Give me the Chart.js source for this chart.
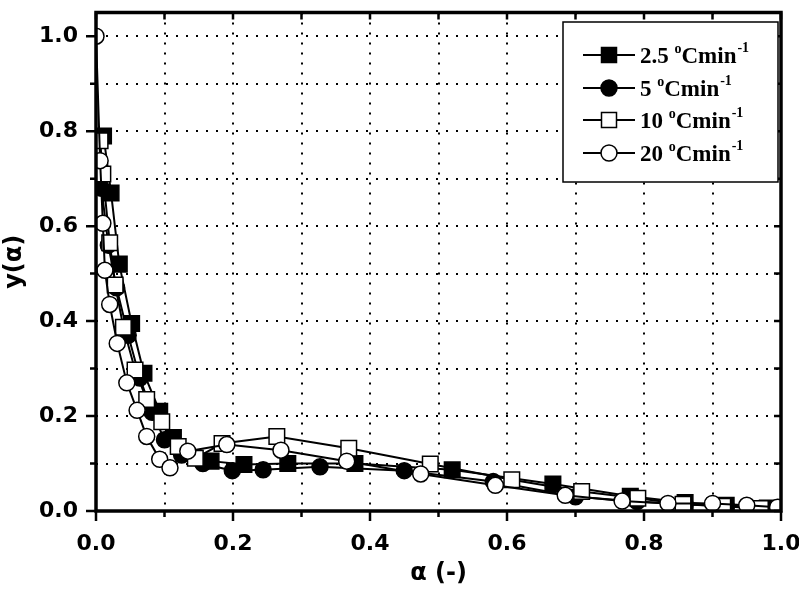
<!DOCTYPE html>
<html lang="en">
<head>
  <meta charset="UTF-8">
  <title>y(alpha) master plot</title>
  <script src="https://cdn.jsdelivr.net/npm/chart.js"></script>
  <style>
    html, body {
      margin: 0;
      padding: 0;
      background: #ffffff;
    }
    #wrap {
      width: 799px;
      height: 590px;
    }
  </style>
</head>
<body>
  <div id="wrap"><canvas id="plot" width="799" height="590"></canvas></div>

  <script>
    // values
    const xTicks = [0, 0.1, 0.2, 0.3, 0.4, 0.5, 0.6, 0.7, 0.8, 0.9, 1.0];
    const yTicks = [0, 0.1, 0.2, 0.3, 0.4, 0.5, 0.6, 0.7, 0.8, 0.9, 1.0];

    const rate25X = [0.011, 0.022, 0.034, 0.052, 0.07, 0.093, 0.113, 0.168, 0.216, 0.28, 0.378, 0.52, 0.667, 0.78, 0.86, 0.92, 0.98];
    const rate25Y = [0.79, 0.67, 0.52, 0.395, 0.29, 0.21, 0.155, 0.105, 0.098, 0.1, 0.1, 0.087, 0.057, 0.031, 0.018, 0.012, 0.006];

    const rate5X = [0.008, 0.018, 0.03, 0.047, 0.064, 0.082, 0.1, 0.125, 0.156, 0.199, 0.244, 0.327, 0.45, 0.58, 0.70, 0.79, 0.86, 0.92, 0.98];
    const rate5Y = [0.68, 0.56, 0.47, 0.37, 0.28, 0.208, 0.15, 0.118, 0.1, 0.085, 0.087, 0.093, 0.085, 0.062, 0.03, 0.02, 0.014, 0.01, 0.005];

    const rate10X = [0.006, 0.01, 0.02, 0.028, 0.04, 0.057, 0.074, 0.096, 0.12, 0.145, 0.184, 0.264, 0.369, 0.488, 0.607, 0.709, 0.791, 0.857, 0.915, 0.97];
    const rate10Y = [0.78, 0.71, 0.565, 0.476, 0.387, 0.297, 0.235, 0.188, 0.136, 0.111, 0.142, 0.157, 0.132, 0.099, 0.066, 0.041, 0.027, 0.014, 0.01, 0.005];

    const rate20X = [0, 0.006, 0.01, 0.013, 0.02, 0.031, 0.045, 0.06, 0.074, 0.093, 0.108, 0.134, 0.191, 0.27, 0.366, 0.474, 0.583, 0.685, 0.768, 0.835, 0.9, 0.95, 0.995];
    const rate20Y = [1.0, 0.738, 0.606, 0.507, 0.435, 0.353, 0.27, 0.212, 0.157, 0.109, 0.091, 0.126, 0.14, 0.128, 0.105, 0.078, 0.054, 0.033, 0.021, 0.016, 0.016, 0.012, 0.008];

    const seriesNames = ['2.5', '5', '10', '20'];

    function pts(xs, ys) {
      return xs.map((x, i) => ({ x: x, y: ys[i] }));
    }

    const markers = [
      { style: 'rect', radius: 11, fill: '#000000' },
      { style: 'circle', radius: 8, fill: '#000000' },
      { style: 'rect', radius: 11, fill: '#ffffff' },
      { style: 'circle', radius: 8, fill: '#ffffff' }
    ];

    function makeSet(i, data, order) {
      const m = markers[i];
      return {
        label: seriesNames[i] + ' °Cmin-1',
        data: data,
        order: order,
        borderColor: '#000000',
        borderWidth: 2,
        showLine: true,
        pointStyle: m.style,
        pointRadius: m.radius,
        pointBackgroundColor: m.fill,
        pointBorderColor: '#000000',
        pointBorderWidth: 1.5,
        tension: 0
      };
    }

    // ticks, frame and the legend with superscripts
    const framePlugin = {
      id: 'frame',
      afterDatasetsDraw(chart) {
        const ctx = chart.ctx;
        const a = chart.chartArea;
        const xs = chart.scales.x;
        const ys = chart.scales.y;
        ctx.save();
        ctx.strokeStyle = '#000';
        ctx.lineWidth = 2.5;
        xTicks.forEach((v, i) => {
          const px = xs.getPixelForValue(v);
          const len = i % 2 === 0 ? 10 : 6;
          ctx.beginPath();
          ctx.moveTo(px, a.bottom);
          ctx.lineTo(px, a.bottom + len);
          ctx.moveTo(px, a.top);
          ctx.lineTo(px, a.top + 7);
          ctx.stroke();
        });
        yTicks.forEach((v, i) => {
          const py = ys.getPixelForValue(v);
          const len = i % 2 === 0 ? 10 : 6;
          ctx.beginPath();
          ctx.moveTo(a.left, py);
          ctx.lineTo(a.left - len, py);
          ctx.moveTo(a.right, py);
          ctx.lineTo(a.right - 7, py);
          ctx.stroke();
        });
        ctx.lineWidth = 3.5;
        ctx.strokeRect(a.left, a.top, a.right - a.left, a.bottom - a.top);

        // legend
        const bx = 563, by = 22, bw = 215, bh = 160;
        ctx.fillStyle = '#fff';
        ctx.fillRect(bx, by, bw, bh);
        ctx.lineWidth = 1.5;
        ctx.strokeRect(bx, by, bw, bh);
        const rows = [55, 88, 120, 153];
        seriesNames.forEach((name, i) => {
          const y = rows[i];
          ctx.lineWidth = 2;
          ctx.beginPath();
          ctx.moveTo(583, y);
          ctx.lineTo(635, y);
          ctx.stroke();
          const m = markers[i];
          ctx.fillStyle = m.fill;
          ctx.lineWidth = 1.5;
          ctx.beginPath();
          if (m.style === 'rect') {
            ctx.rect(609 - 7.5, y - 7.5, 15, 15);
          } else {
            ctx.arc(609, y, 8, 0, Math.PI * 2);
          }
          ctx.fill();
          ctx.stroke();

          ctx.fillStyle = '#000';
          ctx.textBaseline = 'alphabetic';
          ctx.textAlign = 'left';
          let x = 640;
          const base = y + 8;
          ctx.font = 'bold 23px "Liberation Serif", "DejaVu Serif", serif';
          ctx.fillText(name + ' ', x, base);
          x += ctx.measureText(name + ' ').width;
          ctx.font = 'bold 14px "Liberation Serif", serif';
          ctx.fillText('o', x, base - 10);
          x += ctx.measureText('o').width;
          ctx.font = 'bold 23px "Liberation Serif", "DejaVu Serif", serif';
          ctx.fillText('Cmin', x, base);
          x += ctx.measureText('Cmin').width;
          ctx.font = 'bold 14px "Liberation Serif", serif';
          ctx.fillText('-1', x + 1, base - 11);
        });
        ctx.restore();
      }
    };

    const tickFont = { family: '"DejaVu Sans", sans-serif', size: 22, weight: 'bold' };
    const titleFont = { family: '"DejaVu Sans", sans-serif', size: 24, weight: 'bold' };

    new Chart(document.getElementById('plot'), {
      type: 'scatter',
      data: {
        datasets: [
          makeSet(0, pts(rate25X, rate25Y), 3),
          makeSet(1, pts(rate5X, rate5Y), 2),
          makeSet(2, pts(rate10X, rate10Y), 1),
          makeSet(3, pts(rate20X, rate20Y), 0)
        ]
      },
      options: {
        responsive: false,
        animation: false,
        layout: { padding: { left: 0, right: 18, top: 2, bottom: 0 } },
        plugins: {
          legend: { display: false },
          tooltip: { enabled: false }
        },
        scales: {
          x: {
            type: 'linear',
            min: 0,
            max: 1,
            afterBuildTicks: (s) => { s.ticks = xTicks.map(v => ({ value: v })); },
            afterFit: (s) => { s.height = 79; s.paddingLeft = 0; s.paddingRight = 0; },
            grid: {
              color: '#000',
              lineWidth: 2,
              drawTicks: false
            },
            border: { display: false, dash: [2, 8] },
            ticks: {
              color: '#000',
              font: tickFont,
              padding: 20,
              maxRotation: 0,
              autoSkip: false,
              callback: (v, i) => (i % 2 === 0 ? xTicks[i].toFixed(1) : '')
            },
            title: {
              display: true,
              text: 'α (-)',
              color: '#000',
              font: titleFont,
              padding: { top: 0, bottom: 2 }
            }
          },
          y: {
            type: 'linear',
            min: 0,
            max: 1.05,
            afterBuildTicks: (s) => { s.ticks = yTicks.map(v => ({ value: v })); },
            afterFit: (s) => { s.width = 96; s.paddingTop = 0; s.paddingBottom = 0; },
            grid: {
              color: '#000',
              lineWidth: 2,
              drawTicks: false
            },
            border: { display: false, dash: [2, 8] },
            ticks: {
              color: '#000',
              font: tickFont,
              padding: 18,
              autoSkip: false,
              callback: (v, i) => (i % 2 === 0 ? yTicks[i].toFixed(1) : '')
            },
            title: {
              display: true,
              text: 'y(α)',
              color: '#000',
              font: titleFont,
              padding: { top: 0, bottom: 0 }
            }
          }
        }
      },
      plugins: [framePlugin]
    });
  </script>
</body>
</html>
